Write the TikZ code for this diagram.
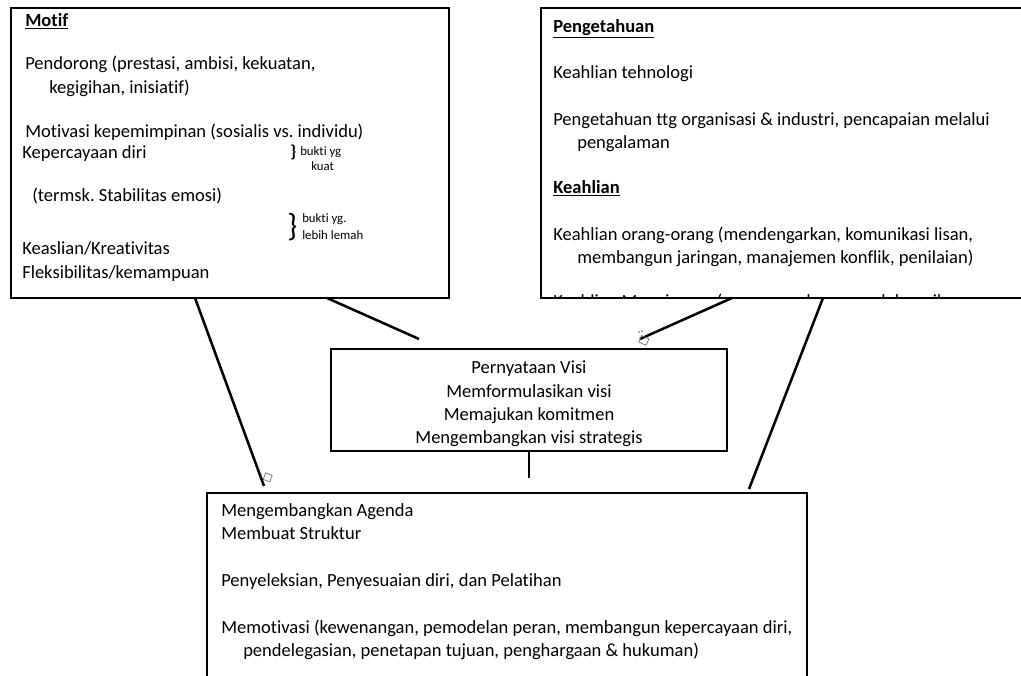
\documentclass[tikz,border=0pt]{standalone}
\usepackage{fontspec}
\setmainfont{Carlito}[Ligatures=NoCommon]
\usepackage{tikz}
\frenchspacing

\tikzset{
  panel/.style={draw, line width=1.9pt},
  link/.style={line width=1.9pt},
  body/.style={anchor=base west, inner sep=0pt, font=\fontsize{13.9}{17}\selectfont},
  mid/.style={anchor=base, inner sep=0pt, font=\fontsize{13.9}{17}\selectfont},
  note/.style={anchor=base west, inner sep=0pt, font=\fontsize{9.6}{11}\selectfont},
  handle/.style={draw=black!60, line width=0.5pt},
}

\begin{document}
\begin{tikzpicture}[x=0.75pt, y=-0.75pt, >=stealth]
        \clip (0,0) rectangle (1021,675);
        \fill[white] (0,0) rectangle (1021,675);

        % Kotak kiri: Motif
        \draw[panel] (11,8) rectangle (449,298);
        \node[body] (motif) at (25,26) {\underline{\textbf{Motif}}};
        \node[body] (dorong) at (25,69) {Pendorong (prestasi, ambisi, kekuatan,};
        \node[body] (dorong2) at (49,93) {kegigihan, inisiatif)};
        \node[body] (motivasi) at (25,137) {Motivasi kepemimpinan (sosialis vs. individu)};
        \node[body] (percaya) at (22,158) {Kepercayaan diri};
        \node[body] (stabil) at (32,201) {(termsk. Stabilitas emosi)};
        \node[body] (asli) at (22,254) {Keaslian/Kreativitas};
        \node[body] (fleksibel) at (22,278) {Fleksibilitas/kemampuan};

        % Kurung kurawal dan catatan
        \node[anchor=base west, inner sep=0pt, font=\fontsize{13}{13}\selectfont\bfseries] (kurung1) at (290,157) {\}};
        \node[note] (kuat1) at (300,155) {bukti yg};
        \node[note] (kuat2) at (311,170) {kuat};
        \node[anchor=base west, inner sep=0pt, font=\fontsize{24}{24}\selectfont] (kurung2) at (287,236) {\}};
        \node[note] (lemah1) at (302,222) {bukti yg.};
        \node[note] (lemah2) at (302,239) {lebih lemah};

        % Kotak kanan: Pengetahuan dan Keahlian
        \begin{scope}
          \clip (541,290) rectangle (1021,298);
          \node[body] (manaj) at (553,307) {Keahlian Manajemen (merencanakan, mendelegasikan, mengendalikan, kebijakan)};
        \end{scope}
        \draw[panel] (541,8) rectangle (1040,298);
        \node[body] (tahu) at (553,32) {\underline{\textbf{Pengetahuan}}};
        \node[body] (tekno) at (553,78) {Keahlian tehnologi};
        \node[body] (org) at (553,125) {Pengetahuan ttg organisasi \& industri, pencapaian melalui};
        \node[body] (org2) at (577,148) {pengalaman};
        \node[body] (ahli) at (553,193) {\underline{\textbf{Keahlian}}};
        \node[body] (orang) at (553,240) {Keahlian orang-orang (mendengarkan, komunikasi lisan,};
        \node[body] (orang2) at (577,263) {membangun jaringan, manajemen konflik, penilaian)};

        % Kotak tengah: Visi
        \draw[panel] (331,349) rectangle (727,451);
        \node[mid] (visi1) at (529,373) {Pernyataan Visi};
        \node[mid] (visi2) at (529,397) {Memformulasikan visi};
        \node[mid] (visi3) at (529,420) {Memajukan komitmen};
        \node[mid] (visi4) at (529,443) {Mengembangkan visi strategis};

        % Kotak bawah
        \draw[panel] (207,493) rectangle (807,700);
        \node[body] (agenda) at (221,516) {Mengembangkan Agenda};
        \node[body] (struktur) at (221,539) {Membuat Struktur};
        \node[body] (seleksi) at (221,586) {Penyeleksian, Penyesuaian diri, dan Pelatihan};
        \node[body] (motiv) at (221,633) {Memotivasi (kewenangan, pemodelan peran, membangun kepercayaan diri,};
        \node[body] (motiv2) at (243,656) {pendelegasian, penetapan tujuan, penghargaan \& hukuman)};

        % Titik ujung garis
        \coordinate (kiriA) at (195,298);
        \coordinate (kiriB) at (264,486);
        \coordinate (kiriC) at (327,298);
        \coordinate (kiriD) at (419,339);
        \coordinate (kananA) at (732,298);
        \coordinate (kananB) at (640,339);
        \coordinate (kananC) at (823,298);
        \coordinate (kananD) at (749,489);
        \coordinate (visiB) at (529,451);
        \coordinate (bawahT) at (529,478);

        % Garis penghubung
        \draw[link] (kiriA) -- (kiriB);
        \draw[link] (kiriC) -- (kiriD);
        \draw[link] (kananA) -- (kananB);
        \draw[link] (kananC) -- (kananD);
        \draw[link] (visiB) -- (bawahT);

        % Pegangan kecil
        \draw[handle, rotate around={-25:(644,340)}] (640,337) rectangle (648,344);
        \fill[black!60] (639,332) circle (0.8) (642,331) circle (0.8);
        \draw[handle, rotate around={-20:(268,478)}] (264,474) rectangle (271,481);
        \fill[black!60] (260,478) circle (0.8) (261,474) circle (0.8);
\end{tikzpicture}
\end{document}
